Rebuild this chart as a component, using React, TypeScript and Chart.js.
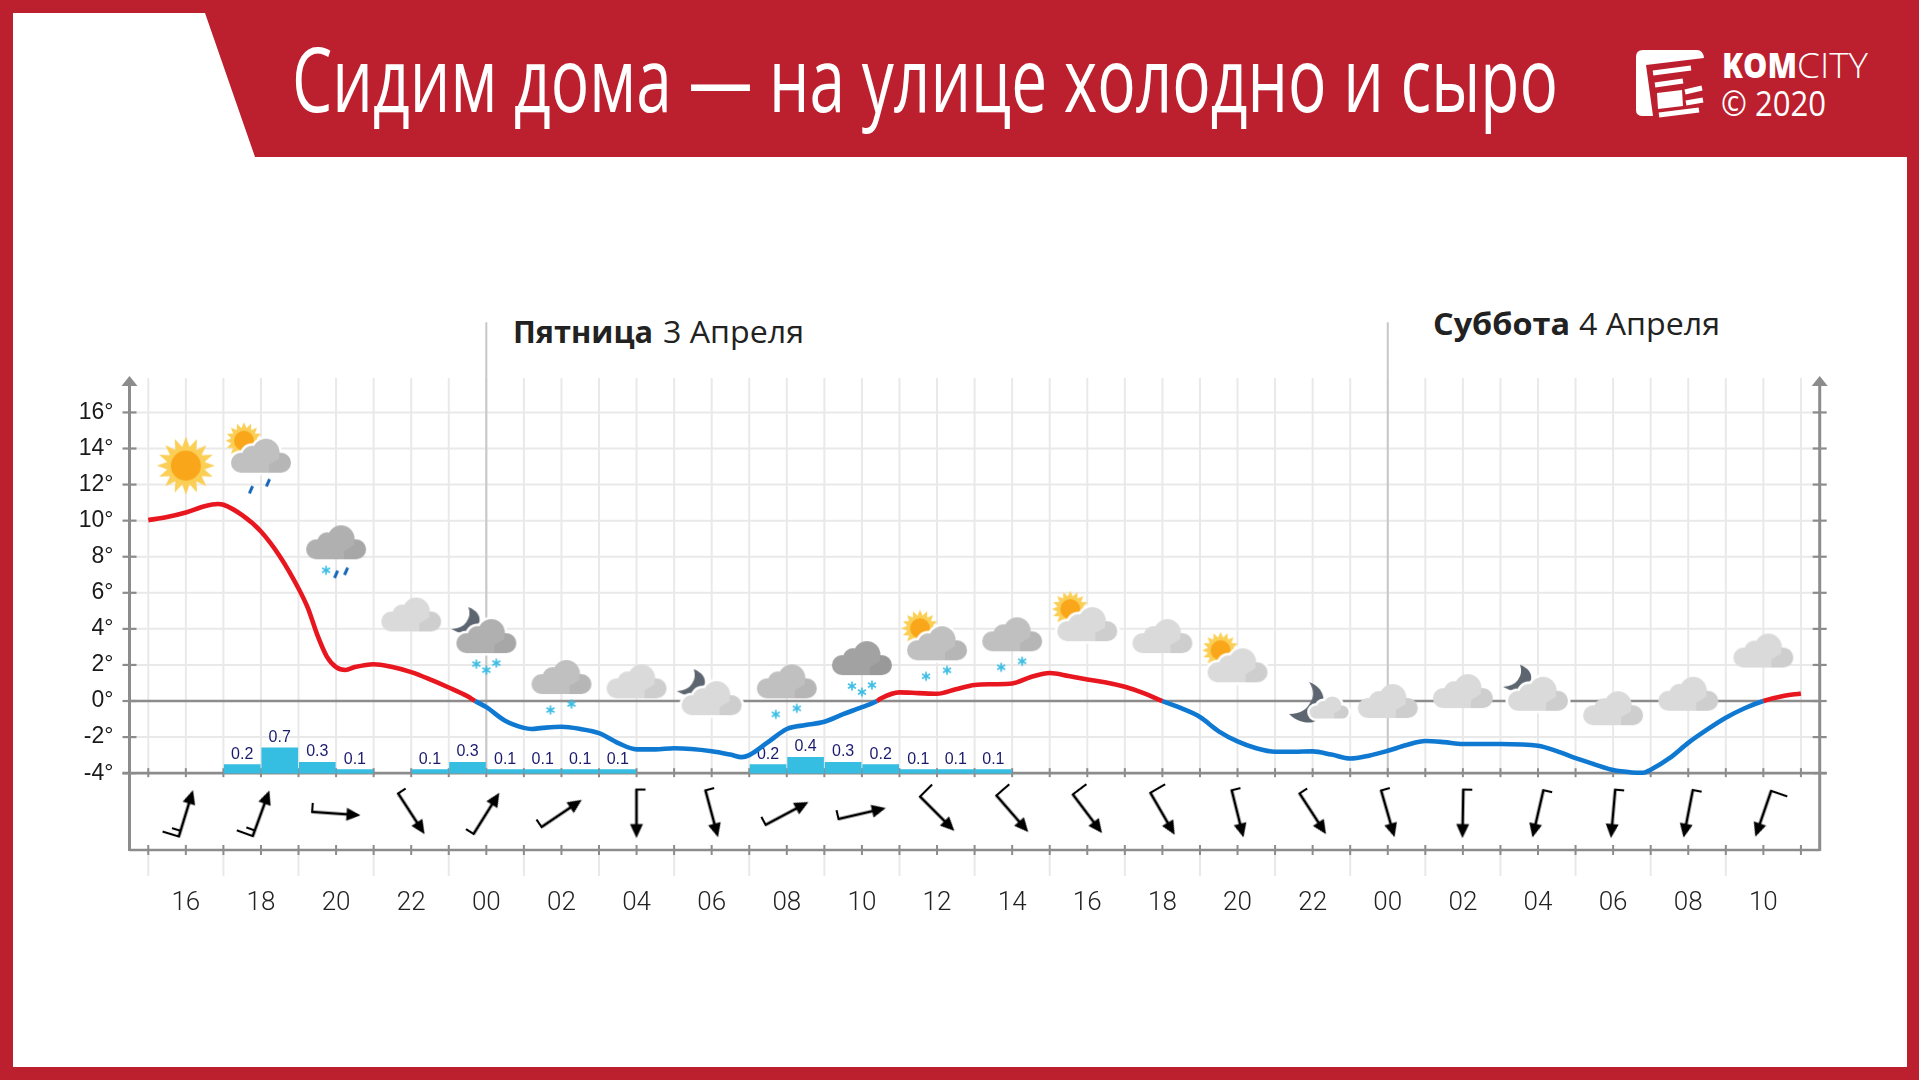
import React, { useEffect, useRef } from "react";
import { Chart, registerables } from "chart.js";

Chart.register(...registerables);

// ---- data ----
const tempHours = [15, 15.5, 16, 16.5, 16.85, 17, 17.5, 18, 18.5, 19, 19.25, 19.5, 19.75, 20, 20.25, 20.5, 21, 21.5, 22, 22.5, 23, 23.5, 23.7, 24, 24.5, 25, 25.2, 25.5, 26, 26.5, 27, 27.5, 28, 28.5, 29, 30, 30.5, 30.8, 31, 31.5, 32, 32.5, 33, 33.5, 34, 34.4, 34.5, 35, 35.5, 36, 36.5, 37, 37.5, 38, 38.5, 39, 39.5, 40, 40.5, 41, 41.5, 42, 42.5, 43, 43.5, 44, 44.5, 45, 45.5, 46, 46.5, 47, 47.5, 48, 48.5, 49, 49.5, 50, 51, 52, 52.5, 53, 53.5, 54, 54.5, 54.8, 55, 55.5, 56, 56.5, 57, 57.5, 58, 58.5, 59];
const temps = [10.03, 10.2, 10.45, 10.8, 10.92, 10.88, 10.3, 9.4, 8.03, 6.24, 5.15, 3.67, 2.48, 1.88, 1.72, 1.88, 2.04, 1.88, 1.6, 1.2, 0.75, 0.26, 0, -0.34, -1.09, -1.49, -1.55, -1.49, -1.43, -1.55, -1.78, -2.32, -2.68, -2.68, -2.62, -2.78, -2.97, -3.11, -3.0, -2.28, -1.55, -1.33, -1.15, -0.73, -0.34, 0, 0.14, 0.48, 0.44, 0.4, 0.65, 0.89, 0.93, 0.97, 1.33, 1.55, 1.39, 1.19, 1.03, 0.79, 0.44, 0, -0.4, -0.89, -1.68, -2.24, -2.62, -2.81, -2.81, -2.79, -2.97, -3.19, -3.03, -2.76, -2.44, -2.22, -2.28, -2.38, -2.38, -2.48, -2.78, -3.17, -3.51, -3.83, -3.96, -3.98, -3.81, -3.17, -2.32, -1.59, -0.93, -0.4, 0, 0.26, 0.42];

const precipHours = [17.5, 18.5, 19.5, 20.5, 22.5, 23.5, 24.5, 25.5, 26.5, 27.5, 31.5, 32.5, 33.5, 34.5, 35.5, 36.5, 37.5];
const precipValues = [0.24, 0.7, 0.3, 0.1, 0.1, 0.3, 0.1, 0.1, 0.1, 0.1, 0.24, 0.44, 0.3, 0.24, 0.1, 0.1, 0.1];

const xTickLabels = ["16", "18", "20", "22", "00", "02", "04", "06", "08", "10", "12", "14", "16", "18", "20", "22", "00", "02", "04", "06", "08", "10"];
const yTickValues = [-4, -2, 0, 2, 4, 6, 8, 10, 12, 14, 16];
const yTickLabels = ["-4°", "-2°", "0°", "2°", "4°", "6°", "8°", "10°", "12°", "14°", "16°"];

const windHours = [16, 18, 20, 22, 24, 26, 28, 30, 32, 34, 36, 38, 40, 42, 44, 46, 48, 50, 52, 54, 56, 58];
const windDirections = [17, 20, 94, 147, 32, 56, 180, 165, 62, 77, 135, 139, 143, 150, 166, 147, 164, 181, 193, 185, 191, 199];
const windSpeeds = [15, 15, 5, 5, 5, 5, 5, 5, 5, 5, 10, 10, 10, 10, 5, 5, 5, 5, 5, 5, 5, 10];
const windRow = -6.24;

const iconHours = [16, 18, 20, 22, 24, 26, 28, 30, 32, 34, 36, 38, 40, 42, 44, 46.44, 48, 50, 52, 54, 56, 58];
const iconLevels = [13.05, 13.6, 8.8, 4.8, 3.6, 1.33, 1.09, 0.16, 1.09, 2.38, 3.2, 3.7, 4.26, 3.6, 1.98, -0.33, 0, 0.55, 0.4, -0.4, 0.4, 2.8];
const iconKinds = ["sun", "sun-mid-rain", "dark-sleet", "light", "moon-dark-snow3", "mid-snow2", "light", "moon-light", "mid-snow2", "darker-snow3", "sun-mid-snow2", "mid-snow2", "sun-light", "light", "sun-light", "moon-small", "light", "light", "moon-light", "light", "light", "light"];

const dayLineHours = [24, 48];

// ---- layout and style constants ----
const W = 1919, H = 1080;
const Y_MAX = 18.02, Y_MIN = -8.26;
const DAY_LINE_TOP_VALUE = 21;
const AXIS = "#8c8c8c", GRID = "#e9e9e9", RED = "#bc1f2e";

function makeCanvas(w: number, h: number) {
  const c = document.createElement("canvas");
  c.width = w; c.height = h;
  return c;
}

function drawSunRays(ctx: CanvasRenderingContext2D, cx: number, cy: number, rOut: number, rIn: number, rDisk: number) {
  const n = 16;
  ctx.fillStyle = "#fbcf55";
  ctx.beginPath();
  for (let i = 0; i < n * 2; i++) {
    const a = (i * Math.PI) / n - Math.PI / 2;
    const r = i % 2 === 0 ? rOut : rIn;
    const px = cx + Math.cos(a) * r, py = cy + Math.sin(a) * r;
    if (i === 0) ctx.moveTo(px, py); else ctx.lineTo(px, py);
  }
  ctx.closePath();
  ctx.fill();
  ctx.fillStyle = "#f9a61a";
  ctx.beginPath();
  ctx.arc(cx, cy, rDisk, 0, Math.PI * 2);
  ctx.fill();
}

function cloudPath(cx: number, cy: number, s: number) {
  const p = new Path2D();
  const circ = (x: number, y: number, r: number) => {
    p.moveTo(cx + (x + r) * s, cy + y * s);
    p.arc(cx + x * s, cy + y * s, r * s, 0, Math.PI * 2);
  };
  circ(-20, 7, 10);
  circ(-9, 0, 10);
  circ(5, -3.5, 13.5);
  circ(20, 7, 10);
  p.rect(cx - 20 * s, cy, 40 * s, 17 * s);
  return p;
}

function drawCloud(ctx: CanvasRenderingContext2D, cx: number, cy: number, s: number, color: string, halo: boolean) {
  const p = cloudPath(cx, cy, s);
  if (halo) {
    ctx.strokeStyle = "#ffffff";
    ctx.lineWidth = 5;
    ctx.stroke(p);
  }
  ctx.fillStyle = color;
  ctx.fill(p);
  ctx.save();
  ctx.clip(p);
  ctx.fillStyle = "rgba(0,0,0,0.05)";
  ctx.beginPath();
  ctx.moveTo(cx + 8 * s, cy + 18 * s);
  ctx.lineTo(cx + 8 * s, cy + 9 * s);
  ctx.lineTo(cx + 18 * s, cy + 3 * s);
  ctx.lineTo(cx + 18 * s, cy - 8 * s);
  ctx.lineTo(cx + 34 * s, cy - 8 * s);
  ctx.lineTo(cx + 34 * s, cy + 18 * s);
  ctx.closePath();
  ctx.fill();
  ctx.restore();
}

function drawFlake(ctx: CanvasRenderingContext2D, x: number, y: number) {
  ctx.strokeStyle = "#3dbde4";
  ctx.lineWidth = 1.7;
  for (let i = 0; i < 3; i++) {
    const a = (i * Math.PI) / 3 + Math.PI / 2;
    ctx.beginPath();
    ctx.moveTo(x - Math.cos(a) * 4.6, y - Math.sin(a) * 4.6);
    ctx.lineTo(x + Math.cos(a) * 4.6, y + Math.sin(a) * 4.6);
    ctx.stroke();
  }
}

function drawDrop(ctx: CanvasRenderingContext2D, x: number, y: number) {
  ctx.strokeStyle = "#1666b5";
  ctx.lineWidth = 3;
  ctx.beginPath();
  ctx.moveTo(x + 1.6, y - 3.6);
  ctx.lineTo(x - 1.6, y + 3.6);
  ctx.stroke();
}

const CLOUD_COLORS: Record<string, string> = { light: "#dadada", mid: "#c0c0c0", dark: "#b0b0b0", darker: "#a2a2a2" };

function makeIcon(kind: string) {
  const c = makeCanvas(160, 140);
  const ctx = c.getContext("2d") as CanvasRenderingContext2D;
  const cx = 80, cy = 70;
  ctx.lineCap = "butt";
  if (kind === "sun") {
    drawSunRays(ctx, cx, cy, 29, 19, 15);
    return c;
  }
  const parts = kind.split("-");
  if (kind === "moon-small") {
    ctx.fillStyle = "#5d6670";
    ctx.beginPath();
    ctx.moveTo(cx - 20, cy - 25);
    ctx.bezierCurveTo(cx - 1, cy - 18, cx - 2, cy + 2, cx - 14, cy + 14);
    ctx.bezierCurveTo(cx - 20, cy + 18, cx - 34, cy + 14, cx - 40, cy + 7);
    ctx.bezierCurveTo(cx - 28, cy + 7, cx - 22, cy + 2, cx - 18, cy - 6);
    ctx.bezierCurveTo(cx - 14, cy - 13, cx - 17, cy - 20, cx - 20, cy - 25);
    ctx.closePath();
    ctx.fill();
    drawCloud(ctx, cx, cy + 0.5, 0.65, "#dadada", true);
    return c;
  }
  if (parts[0] === "sun") drawSunRays(ctx, cx - 17, cy - 15, 18.5, 13, 10);
  if (parts[0] === "moon") {
    ctx.fillStyle = "#5d6670";
    ctx.beginPath();
    ctx.moveTo(cx - 18, cy - 29);
    ctx.quadraticCurveTo(cx - 5, cy - 24, cx - 7, cy - 13);
    ctx.quadraticCurveTo(cx - 12, cy - 3, cx - 24, cy - 3);
    ctx.quadraticCurveTo(cx - 30, cy - 4, cx - 35, cy - 7);
    ctx.quadraticCurveTo(cx - 24, cy - 8, cx - 20, cy - 14);
    ctx.quadraticCurveTo(cx - 15, cy - 21, cx - 18, cy - 29);
    ctx.closePath();
    ctx.fill();
  }
  const shade = parts.find((p) => CLOUD_COLORS[p]) as string;
  drawCloud(ctx, cx, cy, 1, CLOUD_COLORS[shade], parts[0] === "sun" || parts[0] === "moon");
  const tail = parts[parts.length - 1];
  if (tail === "rain") { drawDrop(ctx, cx - 10, cy + 34); drawDrop(ctx, cx + 7, cy + 27); }
  if (tail === "sleet") { drawFlake(ctx, cx - 10, cy + 28); drawDrop(ctx, cx, cy + 32); drawDrop(ctx, cx + 10, cy + 29); }
  if (tail === "snow2") { drawFlake(ctx, cx - 11, cy + 33); drawFlake(ctx, cx + 10, cy + 27); }
  if (tail === "snow3") { drawFlake(ctx, cx - 10, cy + 28); drawFlake(ctx, cx, cy + 34); drawFlake(ctx, cx + 10, cy + 27); }
  return c;
}

function makeWindGlyph(speed: number) {
  const c = makeCanvas(80, 80);
  const ctx = c.getContext("2d") as CanvasRenderingContext2D;
  const x = 40, top = 15.5, tail = 64.5;
  ctx.strokeStyle = "#000";
  ctx.fillStyle = "#000";
  ctx.lineWidth = 2.7;
  ctx.lineCap = "butt";
  ctx.beginPath();
  ctx.moveTo(x, tail);
  ctx.lineTo(x, top + 8);
  ctx.stroke();
  ctx.beginPath();
  ctx.moveTo(x, top);
  ctx.lineTo(x + 6.5, top + 14);
  ctx.lineTo(x - 6.5, top + 14);
  ctx.closePath();
  ctx.fill();
  ctx.lineWidth = 2.1;
  let y = tail - 0.5;
  let left = speed;
  while (left > 0) {
    const len = left >= 10 ? 17 : 9;
    ctx.beginPath();
    ctx.moveTo(x + 1, y);
    ctx.lineTo(x - len, y);
    ctx.stroke();
    left -= 10;
    y -= 6;
  }
  return c;
}

const framePlugin = {
  id: "frame",
  beforeDatasetsDraw(chart: any) {
    const { ctx, scales } = chart;
    const x = scales.x, y = scales.y;
    const left = x.left, right = x.right;
    const top = y.top, bottom = y.bottom;
    const yLow = y.getPixelForValue(-4);
    const yZero = y.getPixelForValue(0);
    const line = (x1: number, y1: number, x2: number, y2: number, color: string, w: number) => {
      ctx.strokeStyle = color;
      ctx.lineWidth = w;
      ctx.beginPath();
      ctx.moveTo(x1, y1);
      ctx.lineTo(x2, y2);
      ctx.stroke();
    };
    ctx.save();
    // light grid
    for (const v of yTickValues) {
      if (v === 0 || v === -4) continue;
      const py = y.getPixelForValue(v);
      line(left, py, right, py, GRID, 2);
    }
    for (let h = 15; h <= 59; h++) {
      const px = x.getPixelForValue(h);
      line(px, top + 2, px, yLow, GRID, 2);
      if (h % 2 === 1 && h < 59) line(px, bottom, px, bottom + 26, GRID, 2);
    }
    // day separators
    for (const h of dayLineHours) {
      const px = x.getPixelForValue(h);
      line(px, y.getPixelForValue(DAY_LINE_TOP_VALUE), px, yLow, "#c8c8c8", 2);
    }
    // dark lines
    line(left, yZero, right, yZero, AXIS, 2.6);
    line(left - 7, yLow, right + 7, yLow, AXIS, 2.6);
    line(left, bottom, right, bottom, AXIS, 2.6);
    for (const px of [left, right]) {
      line(px, top + 8, px, bottom + 1, AXIS, 3);
      ctx.fillStyle = AXIS;
      ctx.beginPath();
      ctx.moveTo(px, top);
      ctx.lineTo(px + 8, top + 10);
      ctx.lineTo(px - 8, top + 10);
      ctx.closePath();
      ctx.fill();
      for (const v of yTickValues) {
        const py = y.getPixelForValue(v);
        line(px - 7, py, px + 7, py, AXIS, 2.2);
      }
    }
    for (let h = 15; h <= 59; h++) {
      const px = x.getPixelForValue(h);
      line(px, yLow - 5, px, yLow + 4, AXIS, 2);
      line(px, bottom - 5, px, bottom + 5, AXIS, 2);
    }
    ctx.restore();
  },
  afterDatasetDraw(chart: any, args: any) {
    if (args.meta.type !== "bar") return;
    const { ctx } = chart;
    ctx.save();
    ctx.fillStyle = "#1b1b6e";
    ctx.font = '16px "Liberation Sans"';
    ctx.textAlign = "center";
    ctx.textBaseline = "alphabetic";
    args.meta.data.forEach((bar: any, i: number) => {
      ctx.fillText(precipValues[i].toFixed(1), bar.x, bar.y - 6);
    });
    ctx.restore();
  },
};

export default function App() {
  const ref = useRef<HTMLCanvasElement | null>(null);

  useEffect(() => {
    const canvas = ref.current as HTMLCanvasElement;
    const iconGlyphs = iconKinds.map(makeIcon);
    const windGlyphs = windSpeeds.map(makeWindGlyph);
    const chart = new Chart(canvas, {
      type: "line",
      plugins: [framePlugin],
      data: {
        datasets: [
          {
            type: "line",
            label: "Температура",
            data: tempHours.map((h, i) => ({ x: h, y: temps[i] })),
            yAxisID: "y",
            borderColor: "#e8171f",
            borderWidth: 4.6,
            pointRadius: 0,
            cubicInterpolationMode: "monotone",
            clip: false,
            order: 0,
            segment: {
              borderColor: (c: any) => (c.p0.parsed.y + c.p1.parsed.y) / 2 >= 0 ? "#e8171f" : "#0f79d2",
            },
          },
          {
            type: "scatter",
            label: "Погода",
            data: iconHours.map((h, i) => ({ x: h, y: iconLevels[i] })),
            yAxisID: "y",
            showLine: false,
            pointRadius: 5,
            pointStyle: (c: any) => iconGlyphs[c.dataIndex],
            clip: false,
            order: 1,
          },
          {
            type: "scatter",
            label: "Ветер",
            data: windHours.map((h) => ({ x: h, y: windRow })),
            yAxisID: "y",
            showLine: false,
            pointRadius: 5,
            pointStyle: (c: any) => windGlyphs[c.dataIndex],
            pointRotation: (c: any) => windDirections[c.dataIndex],
            clip: false,
            order: 2,
          },
          {
            type: "bar",
            label: "Осадки",
            data: precipHours.map((h, i) => ({ x: h, y: precipValues[i] })),
            yAxisID: "y2",
            backgroundColor: "#36bde2",
            barThickness: 36,
            order: 3,
          },
        ],
      } as any,
      options: {
        responsive: false,
        animation: false,
        events: [],
        layout: { padding: { left: 69.5, right: 99.3, top: 376, bottom: 170 } },
        plugins: { legend: { display: false }, tooltip: { enabled: false }, title: { display: false } },
        scales: {
          x: {
            type: "linear",
            min: 15,
            max: 59,
            grid: { display: false },
            border: { display: false },
            afterFit: (s: any) => { s.height = 60; },
            ticks: {
              stepSize: 1,
              autoSkip: false,
              maxRotation: 0,
              minRotation: 0,
              padding: 30,
              color: "#222",
              font: { family: "Roboto", size: 26, weight: "300" },
              callback: (v: any) => {
                const n = Number(v);
                return n % 2 === 0 ? xTickLabels[(n - 16) / 2] ?? "" : "";
              },
            },
          },
          y: {
            type: "linear",
            min: Y_MIN,
            max: Y_MAX,
            grid: { display: false },
            border: { display: false },
            afterFit: (s: any) => { s.width = 60; },
            afterBuildTicks: (s: any) => { s.ticks = yTickValues.map((value) => ({ value })); },
            ticks: {
              autoSkip: false,
              padding: 8,
              color: "#1a1a1a",
              font: { family: "Liberation Sans", size: 23 },
              callback: (v: any) => yTickLabels[yTickValues.indexOf(Number(v))] ?? "",
            },
          },
          y2: {
            type: "linear",
            display: false,
            min: (Y_MIN + 4) / 2,
            max: (Y_MAX + 4) / 2,
          },
        },
      } as any,
    });
    return () => chart.destroy();
  }, []);

  const font = "'Open Sans', sans-serif";
  return (
    <div style={{ position: "absolute", left: 0, top: 0, width: W, height: H, background: "#fff", overflow: "hidden" }}>
      <svg width={W} height={H} style={{ position: "absolute", left: 0, top: 0 }}>
        <rect x={0} y={0} width={W} height={H} fill={RED} />
        <polygon points="13,13 205,13 255,157 1907,157 1907,1067 13,1067" fill="#fff" />
        <text x={292} y={112} fontFamily={font} fontSize={90} fill="#fff" textLength={1266} lengthAdjust="spacingAndGlyphs">
          Сидим дома — на улице холодно и сыро
        </text>
        <path fill="#fff" d="M1643,50 H1697 Q1703,50 1704,58 L1646,65 L1653,116 H1643 Q1636,116 1636,110 V57 Q1636,50 1643,50 Z" />
        <g stroke="#fff" strokeWidth={5} fill="none">
          <line x1={1653} y1={73} x2={1691} y2={68} />
          <line x1={1655} y1={85} x2={1683} y2={81} />
          <line x1={1685} y1={92} x2={1702} y2={88} />
          <line x1={1686} y1={103} x2={1703} y2={100} />
          <line x1={1659} y1={115} x2={1699} y2={110} />
        </g>
        <polygon points="1657,93 1682,90 1683,106 1658,109" fill="#fff" />
        <text x={1722} y={78} fontFamily={font} fontSize={35} fontWeight={800} fill="#fff" textLength={75} lengthAdjust="spacingAndGlyphs">KOM</text>
        <text x={1797} y={78} fontFamily={font} fontSize={35} fontWeight={300} fill="#fff" textLength={71} lengthAdjust="spacingAndGlyphs">CITY</text>
        <text x={1721} y={116} fontFamily={font} fontSize={34} fontWeight={400} fill="#fff" textLength={105} lengthAdjust="spacingAndGlyphs">© 2020</text>

        <text x={513} y={343} fontFamily={font} fontSize={31} fontWeight={700} fill="#222" textLength={140} lengthAdjust="spacingAndGlyphs">Пятница</text>
        <text x={663} y={343} fontFamily={font} fontSize={31} fill="#222" textLength={141} lengthAdjust="spacingAndGlyphs">3 Апреля</text>
        <text x={1433} y={335} fontFamily={font} fontSize={31} fontWeight={700} fill="#222" textLength={137} lengthAdjust="spacingAndGlyphs">Суббота</text>
        <text x={1579} y={335} fontFamily={font} fontSize={31} fill="#222" textLength={141} lengthAdjust="spacingAndGlyphs">4 Апреля</text>
      </svg>
      <canvas ref={ref} width={W} height={H} style={{ position: "absolute", left: 0, top: 0, display: "block" }} />
    </div>
  );
}
